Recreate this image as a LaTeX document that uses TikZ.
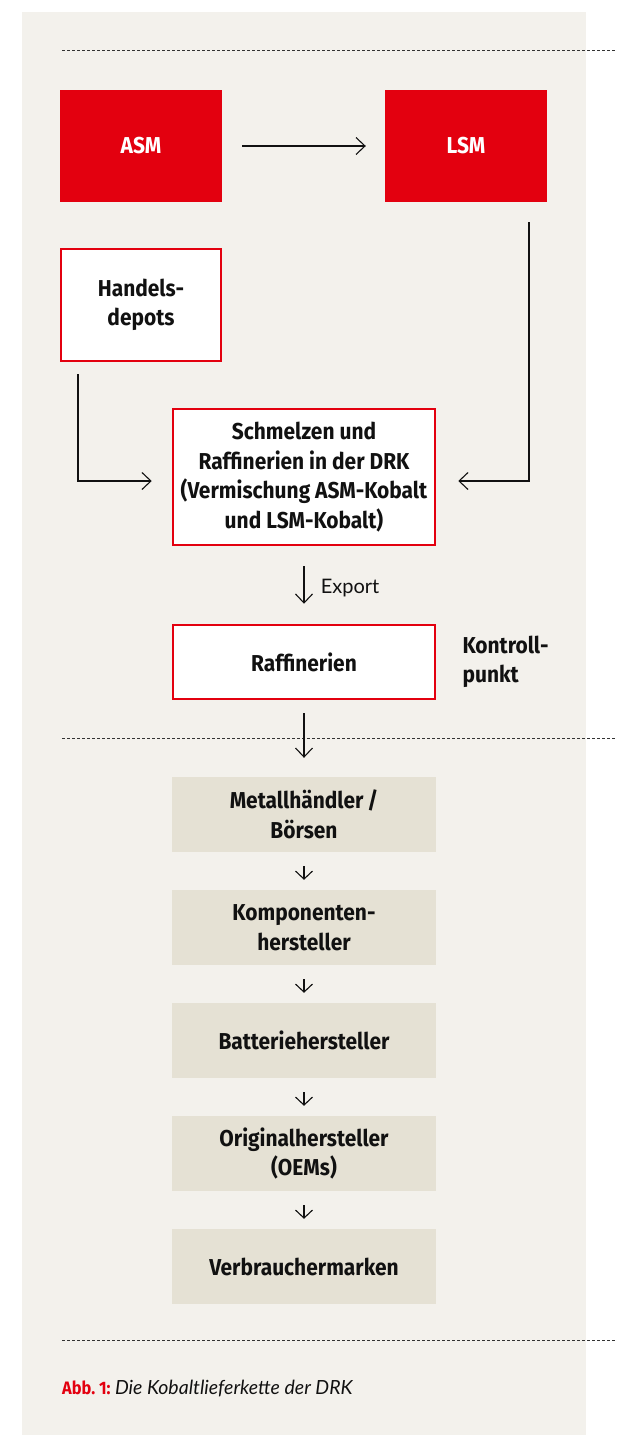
\documentclass[tikz,border=0pt]{standalone}
\usepackage{fontspec}
\usetikzlibrary{arrows.meta}
\newfontfamily\condfont[FakeStretch=0.91]{Fira Sans}
\newfontfamily\gillfont{Lato}
\definecolor{panelbg}{HTML}{F3F1EC}
\definecolor{drkred}{HTML}{E3000F}
\definecolor{beige}{HTML}{E5E1D4}
\definecolor{ink}{HTML}{111111}
\tikzset{
  lbl/.style={font=\condfont\bfseries\fontsize{23}{29.5}\selectfont, align=center, text=ink},
  redbox/.style={lbl, fill=drkred, text=white, minimum width=162pt, minimum height=112pt, inner sep=0pt},
  whitebox/.style={lbl, fill=white, draw=drkred, line width=2.5pt, minimum width=162pt, inner sep=0pt},
  beigebox/.style={lbl, fill=beige, minimum width=264pt, minimum height=75pt, inner sep=0pt},
  arr/.style={draw=ink, line width=1.1pt, -{Straight Barb[length=9pt,width=17pt,line width=1.1pt]}},
  sarr/.style={draw=ink, line width=1.1pt, -{Straight Barb[length=8pt,width=17pt,line width=1.1pt]}},
  sep/.style={draw=black!80, line width=1pt, dash pattern=on 3pt off 2pt},
}
\begin{document}
\begin{tikzpicture}[x=1pt,y=-1pt]
\useasboundingbox (0,0) rectangle (616,1435);
\fill[white] (0,0) rectangle (616,1435);
\fill[panelbg] (22,12) rectangle (586,1435);
% separators
\draw[sep] (62,50) -- (616,50);
\draw[sep] (62,738) -- (616,738);
\draw[sep] (62,1340) -- (616,1340);
% nodes
\node[redbox] (asm) at (141,146) {ASM};
\node[redbox] (lsm) at (466,146) {LSM};
\node[whitebox, minimum width=160pt, minimum height=112pt] (hd) at (141,305) {Handels-\\depots};
\node[whitebox, minimum width=262pt, minimum height=136pt] (sm) at (304,477) {Schmelzen und\\Raffinerien in der DRK\\(Vermischung ASM-Kobalt\\und LSM-Kobalt)};
\node[whitebox, minimum width=262pt, minimum height=74pt] (raf) at (304,662) {Raffinerien};
\node[lbl, align=left, anchor=west] (kp) at (459,662) {Kontroll-\\punkt};
\node[beigebox] (b1) at (304,814.5) {Metallhändler\,/\\Börsen};
\node[beigebox] (b2) at (304,927.5) {Komponenten-\\hersteller};
\node[beigebox] (b3) at (304,1040.5) {Batteriehersteller};
\node[beigebox] (b4) at (304,1153.5) {Originalhersteller\\(OEMs)};
\node[beigebox] (b5) at (304,1266.5) {Verbrauchermarken};
% connectors
\draw[arr, shorten <=20pt, shorten >=19pt] (asm) -- (lsm);
\draw[arr, shorten <=12pt, shorten >=20pt] ([xshift=-63pt]hd.south) |- ([yshift=-4pt]sm.west);
\draw[arr, shorten <=20pt, shorten >=22pt] ([xshift=63pt]lsm.south) |- ([yshift=-4pt]sm.east);
\draw[arr, shorten <=20pt, shorten >=20pt] (sm) -- (raf) node[pos=0.5, right=13pt, yshift=-3pt, font=\gillfont\fontsize{20}{22}\selectfont, text=ink] (exp) {Export};
\draw[arr, shorten <=13pt, shorten >=19pt] (raf) -- (b1);
\draw[sarr, shorten <=14pt, shorten >=10pt] (b1) -- (b2);
\draw[sarr, shorten <=14pt, shorten >=10pt] (b2) -- (b3);
\draw[sarr, shorten <=14pt, shorten >=10pt] (b3) -- (b4);
\draw[sarr, shorten <=14pt, shorten >=10pt] (b4) -- (b5);
% caption
\node[anchor=base west, inner sep=0pt] (cap) at (62,1394) {{\condfont\bfseries\fontsize{18}{20}\selectfont\color{drkred}Abb.~1:} {\gillfont\itshape\fontsize{19.5}{22}\selectfont\color{ink}Die Kobaltlieferkette der DRK}};
\end{tikzpicture}
\end{document}
